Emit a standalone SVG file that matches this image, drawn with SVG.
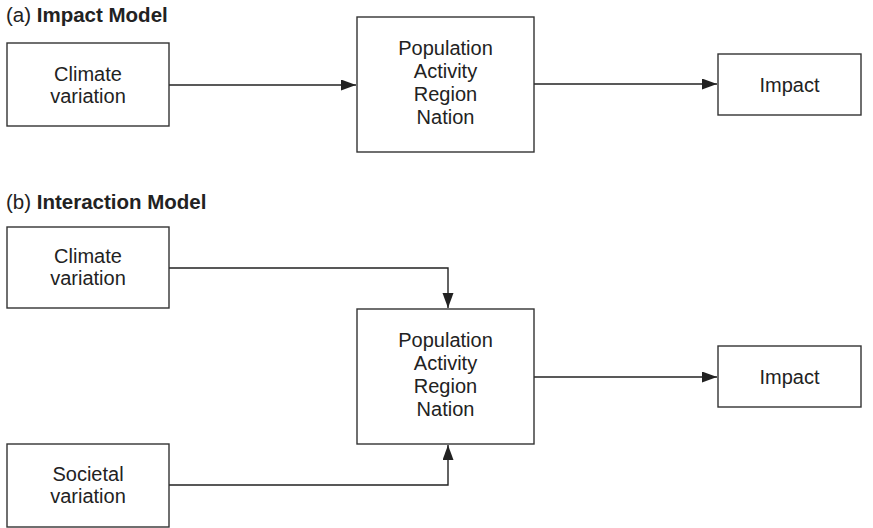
<svg xmlns="http://www.w3.org/2000/svg" width="873" height="528" viewBox="0 0 873 528">
<style>
.box{fill:#fff;stroke:#333;stroke-width:1.4}
.t{font-family:"Liberation Sans",Arial,sans-serif;font-size:20px;fill:#222;text-anchor:middle}
.title{font-family:"Liberation Sans",Arial,sans-serif;font-size:20.5px;fill:#222}
.title tspan.b{font-weight:bold}
.conn{fill:none;stroke:#222;stroke-width:1.4}
</style>
<defs>
<marker id="arr" markerUnits="userSpaceOnUse" markerWidth="16" markerHeight="12" refX="15" refY="5.5" orient="auto">
<path d="M0,0 L15,5.5 L0,11 Z" fill="#222"/>
</marker>
</defs>
<text class="title" x="6" y="22">(a) <tspan class="b">Impact Model</tspan></text>
<text class="title" x="6" y="209">(b) <tspan class="b">Interaction Model</tspan></text>
<g id="connectors">
<path class="conn" d="M169,85 H356" marker-end="url(#arr)"/>
<path class="conn" d="M534,84 H717" marker-end="url(#arr)"/>
<path class="conn" d="M169,268 H448 V308" marker-end="url(#arr)"/>
<path class="conn" d="M169,485 H448 V445" marker-end="url(#arr)"/>
<path class="conn" d="M534,377 H717" marker-end="url(#arr)"/>
</g>
<g id="a-climate">
<rect class="box" x="7" y="43" width="162" height="83"/>
<text class="t" x="88" y="81">Climate</text>
<text class="t" x="88" y="103">variation</text>
</g>
<g id="a-center">
<rect class="box" x="357" y="17" width="177" height="135"/>
<text class="t" x="445.5" y="55">Population</text>
<text class="t" x="445.5" y="78">Activity</text>
<text class="t" x="445.5" y="101">Region</text>
<text class="t" x="445.5" y="124">Nation</text>
</g>
<g id="a-impact">
<rect class="box" x="718" y="54" width="143" height="61"/>
<text class="t" x="789.5" y="92">Impact</text>
</g>
<g id="b-climate">
<rect class="box" x="7" y="227" width="162" height="81"/>
<text class="t" x="88" y="263">Climate</text>
<text class="t" x="88" y="285">variation</text>
</g>
<g id="b-center">
<rect class="box" x="357" y="309" width="177" height="135"/>
<text class="t" x="445.5" y="347">Population</text>
<text class="t" x="445.5" y="370">Activity</text>
<text class="t" x="445.5" y="393">Region</text>
<text class="t" x="445.5" y="416">Nation</text>
</g>
<g id="b-impact">
<rect class="box" x="718" y="346" width="143" height="61"/>
<text class="t" x="789.5" y="384">Impact</text>
</g>
<g id="b-societal">
<rect class="box" x="7" y="444" width="162" height="83"/>
<text class="t" x="88" y="481">Societal</text>
<text class="t" x="88" y="503">variation</text>
</g>
</svg>
